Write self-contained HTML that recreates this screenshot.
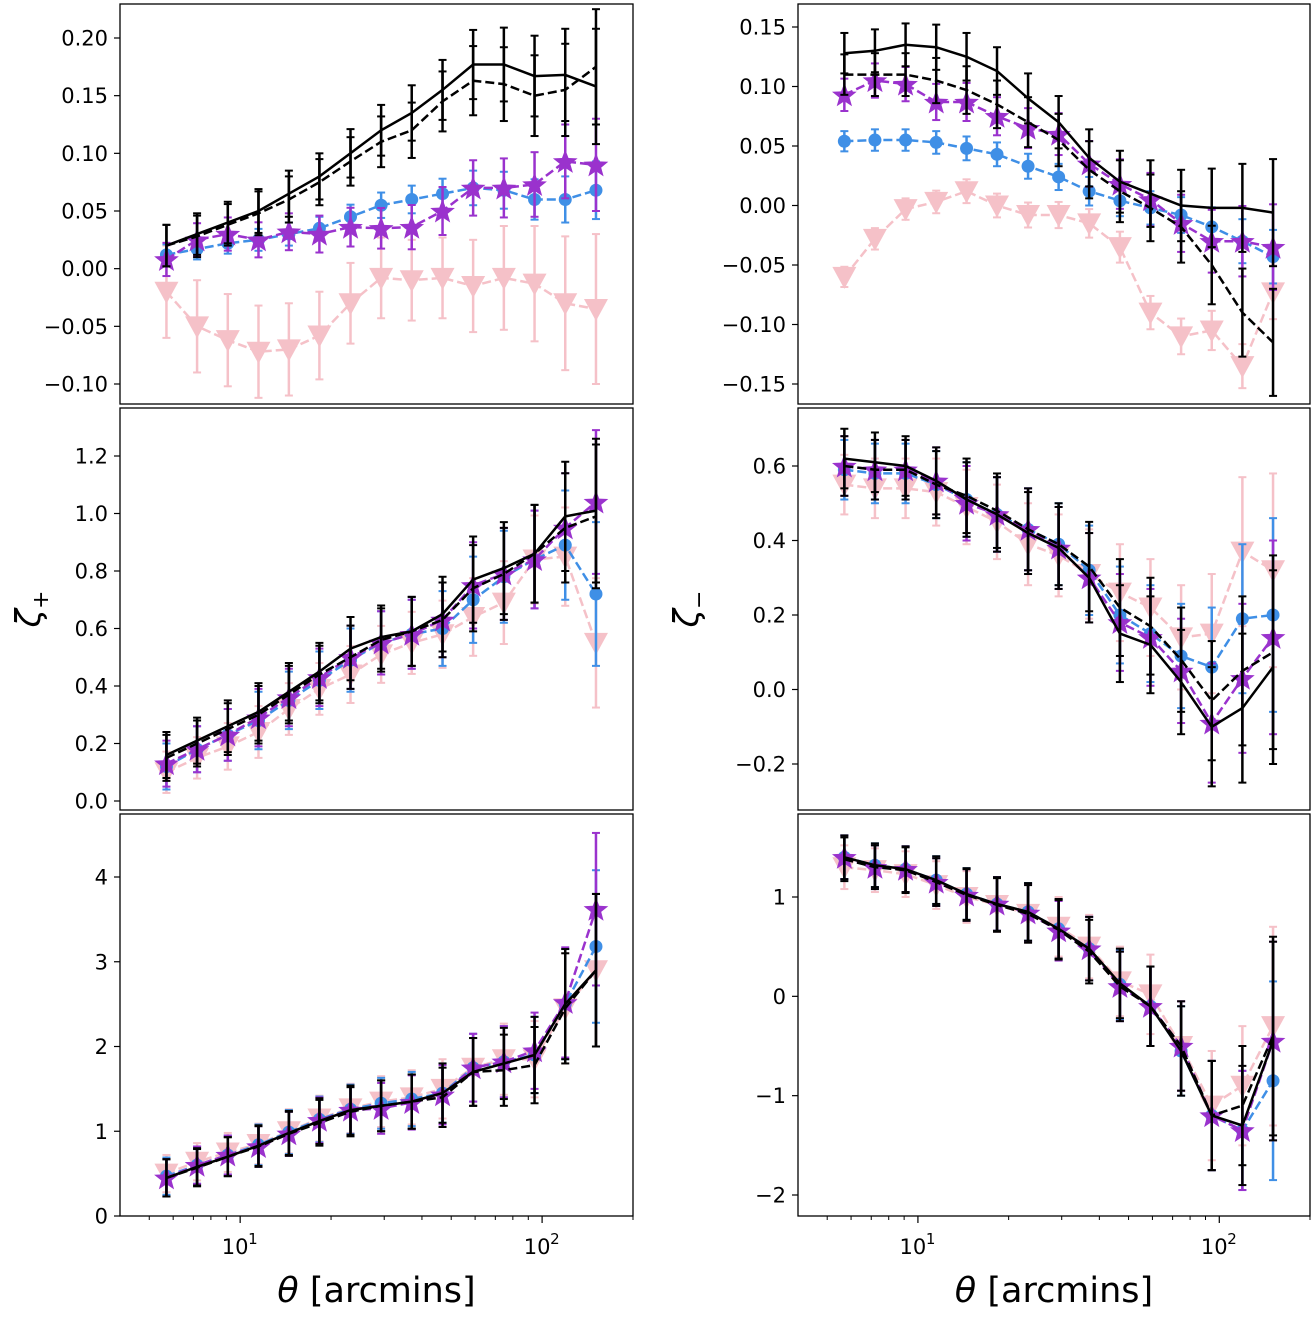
<!DOCTYPE html>
<html><head><meta charset="utf-8"><style>
body{margin:0;background:#fff}
svg{display:block;font-family:"DejaVu Sans","Liberation Sans",sans-serif}
</style></head><body>
<svg id="chart" width="1316" height="1322" viewBox="0 0 1316 1322"></svg>
<script>
const theta=[5.7,7.2,9.1,11.5,14.5,18.3,23.2,29.3,37,46.8,59.1,74.7,94.4,119.3,150.8];
const p1L_solid=[0.02,0.03,0.04,0.05,0.065,0.08,0.10,0.12,0.135,0.155,0.177,0.177,0.167,0.168,0.158];
const p1L_dash=[0.02,0.028,0.038,0.048,0.06,0.075,0.093,0.11,0.12,0.145,0.163,0.16,0.15,0.155,0.175];
const p1L_blue=[0.012,0.017,0.022,0.025,0.03,0.035,0.045,0.055,0.06,0.065,0.07,0.068,0.06,0.06,0.068];
const p1L_purple=[0.008,0.025,0.03,0.025,0.032,0.03,0.036,0.035,0.036,0.05,0.07,0.07,0.073,0.093,0.09];
const p1L_pink=[-0.02,-0.05,-0.062,-0.072,-0.07,-0.058,-0.03,-0.008,-0.01,-0.008,-0.015,-0.008,-0.013,-0.03,-0.035];
const p1R_solid=[0.128,0.13,0.135,0.133,0.125,0.113,0.09,0.07,0.04,0.02,0.01,0.0,-0.002,-0.002,-0.006];
const p1R_dash=[0.11,0.11,0.11,0.105,0.097,0.085,0.07,0.055,0.03,0.012,-0.002,-0.018,-0.05,-0.09,-0.115];
const p1R_blue=[0.054,0.055,0.055,0.053,0.048,0.043,0.033,0.024,0.012,0.004,-0.002,-0.008,-0.018,-0.03,-0.043];
const p1R_purple=[0.093,0.105,0.102,0.087,0.087,0.075,0.065,0.06,0.035,0.018,0.005,-0.015,-0.03,-0.03,-0.035];
const p1R_pink=[-0.06,-0.028,-0.003,0.003,0.012,0.0,-0.008,-0.008,-0.015,-0.035,-0.09,-0.11,-0.105,-0.135,-0.073];
const p2L_solid=[0.16,0.21,0.26,0.31,0.38,0.45,0.53,0.57,0.59,0.65,0.77,0.81,0.86,0.99,1.01];
const p2L_dash=[0.15,0.2,0.25,0.3,0.37,0.44,0.5,0.56,0.59,0.63,0.74,0.79,0.86,0.95,0.99];
const p2L_blue=[0.12,0.18,0.23,0.28,0.35,0.42,0.49,0.55,0.58,0.6,0.7,0.78,0.84,0.89,0.72];
const p2L_purple=[0.13,0.18,0.23,0.29,0.36,0.43,0.5,0.55,0.58,0.63,0.75,0.79,0.84,0.95,1.04];
const p2L_pink=[0.1,0.15,0.19,0.24,0.32,0.39,0.44,0.51,0.55,0.58,0.64,0.69,0.84,0.85,0.55];
const p2R_solid=[0.62,0.61,0.6,0.56,0.51,0.47,0.42,0.38,0.3,0.15,0.12,0.02,-0.1,-0.05,0.06];
const p2R_dash=[0.6,0.59,0.59,0.55,0.52,0.48,0.43,0.39,0.33,0.22,0.17,0.08,-0.03,0.05,0.1];
const p2R_blue=[0.59,0.58,0.58,0.55,0.51,0.47,0.43,0.39,0.32,0.2,0.15,0.09,0.06,0.19,0.2];
const p2R_purple=[0.6,0.59,0.59,0.56,0.5,0.47,0.43,0.38,0.3,0.18,0.14,0.05,-0.09,0.03,0.14];
const p2R_pink=[0.55,0.54,0.54,0.53,0.49,0.45,0.39,0.36,0.31,0.26,0.22,0.14,0.15,0.37,0.32];
const p3L_solid=[0.45,0.58,0.7,0.83,0.98,1.12,1.25,1.3,1.35,1.45,1.7,1.8,1.9,2.5,2.9];
const p3L_dash=[0.45,0.57,0.7,0.82,0.97,1.1,1.23,1.3,1.35,1.4,1.7,1.72,1.78,2.45,2.9];
const p3L_blue=[0.47,0.6,0.72,0.84,0.99,1.14,1.26,1.33,1.38,1.45,1.75,1.82,1.9,2.5,3.18];
const p3L_purple=[0.45,0.6,0.72,0.82,0.97,1.13,1.25,1.27,1.34,1.43,1.75,1.82,1.95,2.52,3.62];
const p3L_pink=[0.5,0.64,0.75,0.85,1.0,1.15,1.27,1.35,1.4,1.5,1.75,1.85,1.85,2.45,2.9];
const p3R_solid=[1.4,1.32,1.28,1.17,1.03,0.93,0.85,0.68,0.48,0.13,-0.1,-0.55,-1.2,-1.3,-0.45];
const p3R_dash=[1.38,1.3,1.27,1.15,1.02,0.92,0.83,0.67,0.45,0.1,-0.1,-0.5,-1.2,-1.1,-0.4];
const p3R_blue=[1.4,1.32,1.28,1.17,1.03,0.93,0.85,0.68,0.48,0.12,-0.1,-0.55,-1.2,-1.35,-0.85];
const p3R_purple=[1.4,1.3,1.28,1.15,1.02,0.93,0.84,0.66,0.48,0.1,-0.1,-0.5,-1.2,-1.35,-0.45];
const p3R_pink=[1.3,1.27,1.23,1.12,1.0,0.92,0.83,0.7,0.5,0.15,0.02,-0.5,-1.1,-0.9,-0.3];
const e1L=[0.018,0.018,0.018,0.019,0.02,0.02,0.021,0.022,0.024,0.026,0.03,0.032,0.035,0.04,0.05];
const e1Lpink=[0.04,0.04,0.04,0.04,0.04,0.038,0.035,0.035,0.035,0.035,0.04,0.045,0.05,0.058,0.065];
const e1R=[0.017,0.018,0.018,0.019,0.02,0.02,0.021,0.022,0.024,0.026,0.028,0.03,0.033,0.037,0.045];
const e2L=[0.08,0.08,0.09,0.1,0.1,0.1,0.11,0.11,0.12,0.13,0.15,0.16,0.17,0.19,0.25];
const e2R=[0.08,0.08,0.08,0.09,0.1,0.1,0.11,0.11,0.12,0.13,0.13,0.14,0.16,0.2,0.26];
const e3L=[0.22,0.22,0.23,0.24,0.26,0.27,0.29,0.3,0.32,0.35,0.4,0.42,0.45,0.65,0.9];
const e3R=[0.22,0.22,0.23,0.24,0.26,0.27,0.29,0.3,0.32,0.35,0.4,0.45,0.55,0.6,1.0];

const NS="http://www.w3.org/2000/svg";
const svg=document.getElementById('chart');
function el(tag,attrs,parent){const e=document.createElementNS(NS,tag);for(const k in attrs)e.setAttribute(k,attrs[k]);(parent||svg).appendChild(e);return e;}
const COL={solid:'#000',dash:'#000',blue:'#3f8fe6',purple:'#9a32cd',pink:'#f5c1c8'};

const panels=[
 {x0:120,x1:633,y0:4,y1:404,y0v:0.20,y0px:38,y1v:-0.10,y1px:384,ticks:[-0.10,-0.05,0,0.05,0.10,0.15,0.20],fmt:2,d:[p1L_solid,p1L_dash,p1L_blue,p1L_purple,p1L_pink],e:[e1L,e1L,e1L.map(v=>v*0.5),e1L.map(v=>v*0.8),e1Lpink],name:'zeta-plus-top',xlab:false},
 {x0:798,x1:1310,y0:4,y1:404,y0v:0.15,y0px:27,y1v:-0.15,y1px:384,ticks:[-0.15,-0.10,-0.05,0,0.05,0.10,0.15],fmt:2,d:[p1R_solid,p1R_dash,p1R_blue,p1R_purple,p1R_pink],e:[e1R,e1R,e1R.map(v=>v*0.5),e1R.map(v=>v*0.8),e1R.map(v=>v*0.5)],name:'zeta-minus-top',xlab:false},
 {x0:120,x1:633,y0:408,y1:810,y0v:1.2,y0px:456,y1v:0,y1px:801,ticks:[0,0.2,0.4,0.6,0.8,1.0,1.2],fmt:1,d:[p2L_solid,p2L_dash,p2L_blue,p2L_purple,p2L_pink],e:[e2L,e2L,e2L,e2L,e2L.map(v=>v*0.9)],name:'zeta-plus-middle',xlab:false},
 {x0:798,x1:1310,y0:408,y1:810,y0v:0.6,y0px:466,y1v:-0.2,y1px:764,ticks:[-0.2,0,0.2,0.4,0.6],fmt:1,d:[p2R_solid,p2R_dash,p2R_blue,p2R_purple,p2R_pink],e:[e2R,e2R,e2R,e2R,e2R],name:'zeta-minus-middle',xlab:false},
 {x0:120,x1:633,y0:814,y1:1216,y0v:4,y0px:877,y1v:0,y1px:1216,ticks:[0,1,2,3,4],fmt:0,d:[p3L_solid,p3L_dash,p3L_blue,p3L_purple,p3L_pink],e:[e3L,e3L,e3L,e3L,e3L],name:'zeta-plus-bottom',xlab:true},
 {x0:798,x1:1310,y0:814,y1:1216,y0v:1,y0px:897,y1v:-2,y1px:1195,ticks:[-2,-1,0,1],fmt:0,d:[p3R_solid,p3R_dash,p3R_blue,p3R_purple,p3R_pink],e:[e3R,e3R,e3R,e3R,e3R],name:'zeta-minus-bottom',xlab:true}
];
const keys=['solid','dash','blue','purple','pink'];
const order=[4,2,3,1,0];
function starPts(cx,cy,R){let s=[];for(let i=0;i<10;i++){const r=i%2?R*0.42:R;const a=-Math.PI/2+i*Math.PI/5;s.push((cx+r*Math.cos(a)).toFixed(1)+','+(cy+r*Math.sin(a)).toFixed(1));}return s.join(' ');}
function fmtNum(v,f){let s=v.toFixed(f);if(v<-1e-9)s='\u2212'+s.slice(1);if(Math.abs(v)<1e-9)s=(0).toFixed(f);return s;}

panels.forEach(P=>{
 const g=el('g',{});  
 const xs=v=>{const l0=Math.log10(4),l1=Math.log10(200);return P.x0+(Math.log10(v)-l0)/(l1-l0)*(P.x1-P.x0);};
 const ys=v=>P.y1px+(v-P.y1v)/(P.y0v-P.y1v)*(P.y0px-P.y1px);
 const clip='c'+P.name;
 const cp=el('clipPath',{id:clip},g);el('rect',{x:P.x0,y:P.y0,width:P.x1-P.x0,height:P.y1-P.y0},cp);
 const pg=el('g',{'clip-path':'url(#'+clip+')'},g);
 order.forEach(si=>{
  const k=keys[si],c=COL[k],d=P.d[si],e=P.e[si];
  const sg=el('g',{},pg);  
  d.forEach((v,i)=>{const x=xs(theta[i]);const a=ys(v+e[i]),b=ys(v-e[i]);
   el('line',{x1:x,y1:a,x2:x,y2:b,stroke:c,'stroke-width':2.5},sg);
   el('line',{x1:x-4,y1:a,x2:x+4,y2:a,stroke:c,'stroke-width':2},sg);
   el('line',{x1:x-4,y1:b,x2:x+4,y2:b,stroke:c,'stroke-width':2},sg);});
  const pts=d.map((v,i)=>xs(theta[i]).toFixed(1)+','+ys(v).toFixed(1)).join(' ');
  const ln=el('polyline',{points:pts,fill:'none',stroke:c,'stroke-width':2.5,'stroke-dasharray':k==='solid'?'none':'9,4'},sg);
   
  d.forEach((v,i)=>{const x=xs(theta[i]),y=ys(v);let m=null;
   if(k==='blue')m=el('circle',{cx:x,cy:y,r:6.5,fill:c},sg);
   else if(k==='purple')m=el('polygon',{points:starPts(x,y+1,13),fill:c},sg);
   else if(k==='pink')m=el('polygon',{points:`${x-12},${y-10} ${x+12},${y-10} ${x},${y+12}`,fill:c},sg);
   if(m){}
  });
 });
 el('rect',{x:P.x0,y:P.y0,width:P.x1-P.x0,height:P.y1-P.y0,fill:'none',stroke:'#000','stroke-width':1.3},g);
 P.ticks.forEach(t=>{const y=ys(t);
  el('line',{x1:P.x0-6,y1:y,x2:P.x0,y2:y,stroke:'#000','stroke-width':1.2},g);
  const tx=el('text',{x:P.x0-12,y:y+7.5,'text-anchor':'end','font-size':21},g);tx.textContent=fmtNum(t,P.fmt);
  });
 if(P.xlab){
  [5,6,7,8,9,20,30,40,50,60,70,80,90,200].forEach(m=>{const x=xs(m);if(x<=P.x1+0.5)el('line',{x1:x,y1:P.y1,x2:x,y2:P.y1+4,stroke:'#000','stroke-width':1},g);});
  [[10,'1'],[100,'2']].forEach(([v,ex])=>{const x=xs(v);
   el('line',{x1:x,y1:P.y1,x2:x,y2:P.y1+7,stroke:'#000','stroke-width':1.2},g);
   const t=el('text',{x:x-5,y:P.y1+38,'text-anchor':'middle','font-size':21},g);t.textContent='10';
   
   const s=el('text',{x:x+8,y:P.y1+28,'font-size':15},g);s.textContent=ex;});
  const xl=el('text',{x:(P.x0+P.x1)/2,y:1302,'text-anchor':'middle','font-size':35},g);
  xl.innerHTML='<tspan font-style="italic">θ</tspan> [arcmins]';
  
 }
});
const yl1=el('text',{transform:'translate(40,609) rotate(-90)','text-anchor':'middle','font-size':34});
yl1.innerHTML='<tspan font-style="italic">ζ</tspan><tspan font-size="22" dy="8">+</tspan>';

const yl2=el('text',{transform:'translate(698,609) rotate(-90)','text-anchor':'middle','font-size':34});
yl2.innerHTML='<tspan font-style="italic">ζ</tspan><tspan font-size="22" dy="8">−</tspan>';

</script>
</body></html>
